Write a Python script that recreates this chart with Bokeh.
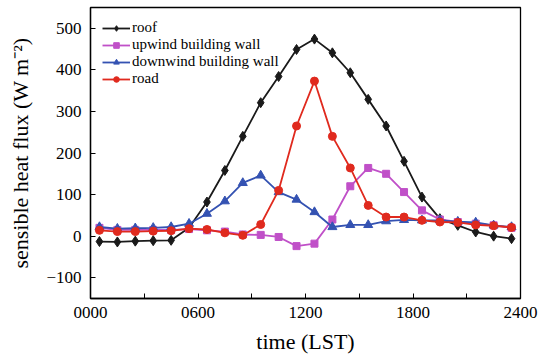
from bokeh.plotting import figure
from bokeh.models import FixedTicker, Range1d, Legend, LegendItem
from bokeh.embed import file_html
from bokeh.resources import INLINE

hours = [0.5, 1.5, 2.5, 3.5, 4.5, 5.5, 6.5, 7.5, 8.5, 9.5, 10.5, 11.5,
         12.5, 13.5, 14.5, 15.5, 16.5, 17.5, 18.5, 19.5, 20.5, 21.5, 22.5, 23.5]
roof = [-13, -14, -12, -11, -10, 20, 82, 158, 240, 321, 384, 449,
        474, 441, 393, 329, 265, 180, 94, 42, 26, 10, 0, -6]
upwind = [20, 15, 15, 15, 15, 17, 14, 11, 4, 3, -2, -24,
          -18, 40, 120, 164, 150, 106, 62, 40, 34, 30, 26, 20]
downwind = [22, 18, 19, 20, 22, 30, 54, 84, 128, 146, 106, 88,
            58, 22, 27, 27, 36, 39, 38, 38, 35, 33, 26, 22]
road = [14, 11, 11, 12, 13, 18, 16, 8, 2, 28, 110, 265,
        373, 240, 164, 74, 46, 46, 38, 34, 33, 27, 25, 21]

x_ticks = [0, 6, 12, 18, 24]
x_minor = [3, 9, 15, 21]
x_labels = ["0000", "0600", "1200", "1800", "2400"]
y_ticks = [-100, 0, 100, 200, 300, 400, 500]
y_labels = ["\u2212100", "0", "100", "200", "300", "400", "500"]

FONT = "Liberation Serif"

p = figure(width=543, height=356, output_backend="svg", toolbar_location=None,
           x_range=Range1d(0, 24), y_range=Range1d(-150, 550),
           min_border_left=90, min_border_right=23, min_border_top=7, min_border_bottom=57)
p.background_fill_color = "white"
p.border_fill_color = "white"
p.outline_line_color = "black"
p.outline_line_width = 1.3
p.grid.visible = False

for ax in (p.xaxis[0], p.yaxis[0]):
    ax.axis_line_color = "black"
    ax.axis_line_width = 1.3
    ax.major_tick_in = 5
    ax.major_tick_out = 0
    ax.minor_tick_in = 5
    ax.minor_tick_out = 0
    ax.major_tick_line_color = "black"
    ax.minor_tick_line_color = "black"
    ax.major_label_text_font = FONT
    ax.major_label_text_font_size = "17px"
    ax.major_label_text_color = "black"
    ax.axis_label_text_font = FONT
    ax.axis_label_text_font_size = "22px"
    ax.axis_label_text_font_style = "normal"
    ax.axis_label_text_color = "black"

p.xaxis.ticker = FixedTicker(ticks=x_ticks, minor_ticks=x_minor)
p.xaxis.major_label_overrides = {t: l for t, l in zip(x_ticks, x_labels)}
p.xaxis.axis_label = "time (LST)"
p.xaxis.major_label_standoff = 8
p.xaxis.axis_label_standoff = 8
p.yaxis.ticker = FixedTicker(ticks=y_ticks, minor_ticks=[])
p.yaxis.major_label_overrides = {t: l for t, l in zip(y_ticks, y_labels)}
p.yaxis.axis_label = "sensible heat flux (W m\u207b\u00b2)"
p.yaxis.major_label_standoff = 9
p.yaxis.axis_label_standoff = 10

series = [
    ("roof", roof, "#1a1a1a", "diamond", 10),
    ("upwind building wall", upwind, "#c050c8", "square", 7),
    ("downwind building wall", downwind, "#3452b2", "triangle", 9),
    ("road", road, "#e02a1e", "circle", 8),
]
items = []
for name, ys, color, marker, size in series:
    l = p.line(hours, ys, line_color=color, line_width=1.8)
    s = p.scatter(hours, ys, marker=marker, size=size, fill_color=color, line_color=color)
    items.append(LegendItem(label=name, renderers=[l, s]))

legend = Legend(items=items, location="top_left")
legend.label_text_font = FONT
legend.label_text_font_size = "15px"
legend.label_text_color = "black"
legend.border_line_color = None
legend.background_fill_alpha = 0
legend.glyph_width = 28
legend.glyph_height = 14
legend.label_standoff = 2
legend.spacing = -2
legend.padding = 3
legend.margin = 12
legend.label_height = 14
p.add_layout(legend)

open("out.html", "w").write(file_html(p, INLINE))
